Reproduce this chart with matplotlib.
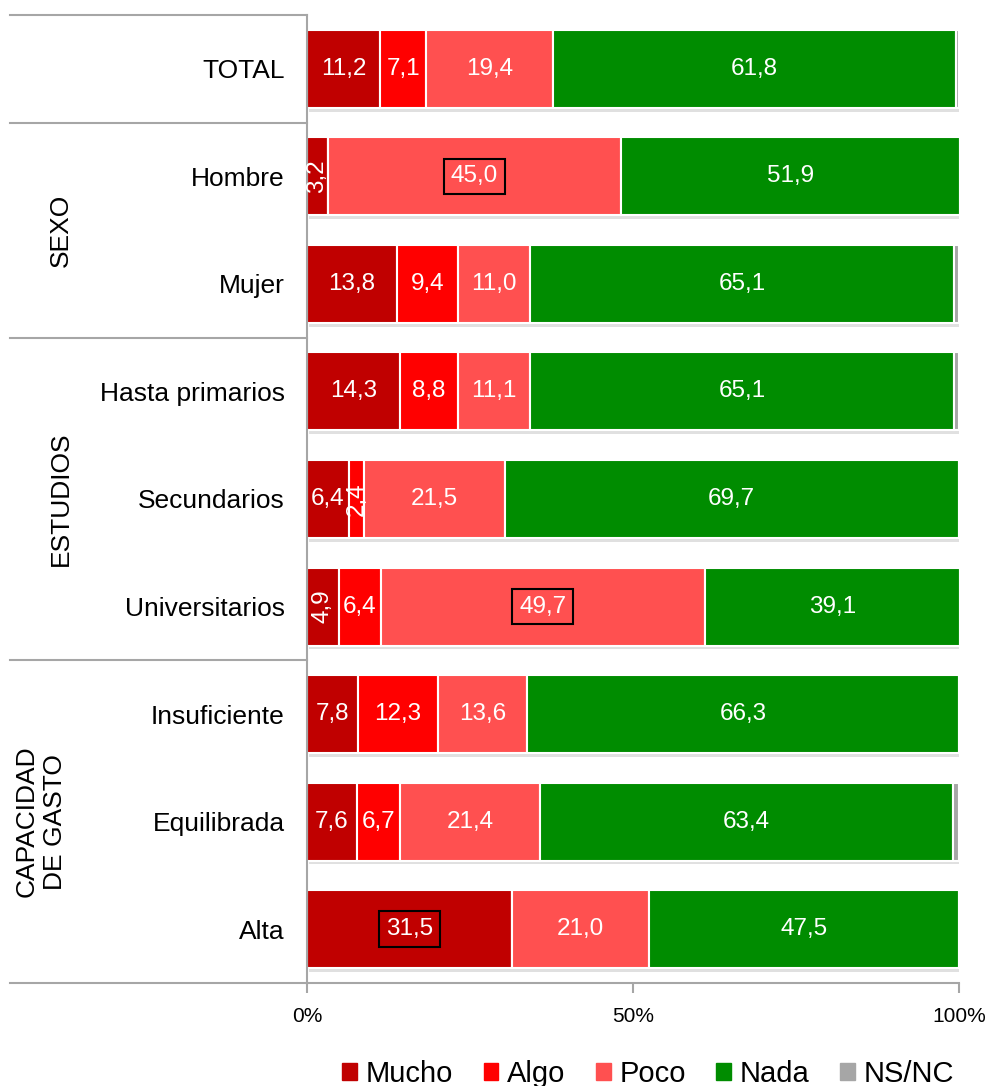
import numpy as np
import matplotlib as mpl
mpl.use("Agg")
import matplotlib.pyplot as plt
from matplotlib.patches import Patch

plt.rcParams["font.family"] = ["Liberation Sans", "DejaVu Sans"]

# data
CATS = ["TOTAL", "Hombre", "Mujer", "Hasta primarios", "Secundarios",
        "Universitarios", "Insuficiente", "Equilibrada", "Alta"]
SERIES = ["Mucho", "Algo", "Poco", "Nada", "NS/NC"]
mucho = [11.2, 3.2, 13.8, 14.3, 6.4, 4.9, 7.8, 7.6, 31.5]
algo = [7.1, 0.0, 9.4, 8.8, 2.4, 6.4, 12.3, 6.7, 0.0]
poco = [19.4, 45.0, 11.0, 11.1, 21.5, 49.7, 13.6, 21.4, 21.0]
nada = [61.8, 51.9, 65.1, 65.1, 69.7, 39.1, 66.3, 63.4, 47.5]
nsnc = [0.5, 0.0, 0.7, 0.7, 0.0, 0.0, 0.0, 0.9, 0.0]
GROUPS = [("SEXO", 1, 2), ("ESTUDIOS", 3, 5), ("CAPACIDAD\nDE GASTO", 6, 8)]
BOXED = [(1, "Poco"), (5, "Poco"), (8, "Mucho")]

COLORS = ["#C00000", "#FF0000", "#FF5050", "#008C00", "#A6A6A6"]
GRID = "#A6A6A6"

fig = plt.figure(figsize=(9.91, 10.86), dpi=100)
ax = fig.add_axes([307 / 991, 1 - 983 / 1086, 652 / 991, 968 / 1086])

y = np.arange(len(CATS))
vals = [mucho, algo, poco, nada, nsnc]
h = 0.725

# soft shadow under each bar
tot = np.sum(vals, axis=0)
ax.barh(y + 0.035, np.minimum(tot, 100), height=h, left=0.3, color="black",
        alpha=0.12, lw=0, zorder=1)

left = np.zeros(len(CATS))
for name, v, c in zip(SERIES, vals, COLORS):
    v = np.array(v)
    ax.barh(y, v, left=left, height=h, color=c, edgecolor="white", lw=1.5,
            zorder=2, label=name)
    if name != "NS/NC":
        for i, (l, w) in enumerate(zip(left, v)):
            if w <= 0:
                continue
            lab = f"{w:.1f}".replace(".", ",")
            kw = dict(ha="center", va="center", color="white", fontsize=17.5, zorder=3)
            if w < 5:
                kw["rotation"] = 90
            if (i, name) in BOXED:
                kw["bbox"] = dict(boxstyle="square,pad=0.28", fc="none", ec="black", lw=1.5)
            ax.text(l + w / 2, i, lab, **kw)
    left += v

ax.set_xlim(0, 100)
ax.set_ylim(8.5, -0.5)
ax.set_xticks([0, 50, 100])
ax.set_xticklabels(["0%", "50%", "100%"], fontsize=15)
ax.set_yticks(y)
ax.set_yticklabels(CATS, fontsize=19)
ax.tick_params(axis="y", length=0, pad=16)
ax.tick_params(axis="x", length=7, width=1.5, color=GRID, pad=10)
for s in ("top", "right"):
    ax.spines[s].set_visible(False)
for s in ("left", "bottom"):
    ax.spines[s].set_color(GRID)
    ax.spines[s].set_linewidth(1.5)

# table lines on the left
tr = ax.get_yaxis_transform()
x0 = (10 - 307) / 652
for yy in (-0.5, 0.5, 2.5, 5.5, 8.5):
    ax.plot([x0, 0], [yy, yy], color=GRID, lw=1.5, transform=tr, clip_on=False)

for lab, a, b in GROUPS:
    xc = -0.378 if "\n" not in lab else -0.408
    ax.text(xc, (a + b) / 2, lab, transform=tr, rotation=90, ha="center",
            va="center", fontsize=19, linespacing=1.2)

handles = [Patch(color=c, label=n) for n, c in zip(SERIES, COLORS)]
fig.legend(handles=handles, loc="center", bbox_to_anchor=(0.654, 0.011), ncol=5,
           frameon=False, fontsize=21, handlelength=0.5, handleheight=0.5,
           handletextpad=0.3, columnspacing=1.05)

fig.savefig("out.png", dpi=100)
